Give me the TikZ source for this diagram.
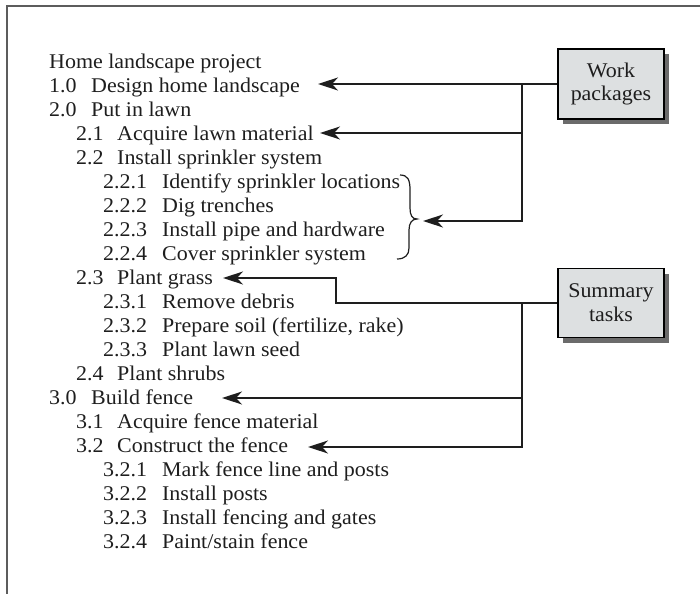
\documentclass[tikz,border=0pt]{standalone}
\usepackage{fontspec}
\setmainfont{Liberation Serif}[FakeStretch=1.05]
\usetikzlibrary{arrows.meta,shadows}
\definecolor{boxfill}{HTML}{DDE0E1}
\definecolor{shadowgray}{HTML}{6B6B6B}
\definecolor{framegray}{HTML}{5C5C5C}
\definecolor{ink}{HTML}{1E1E1E}
\newcommand{\numA}[1]{\makebox[42bp][l]{#1}}
\newcommand{\numB}[1]{\makebox[41bp][l]{#1}}
\newcommand{\numC}[1]{\makebox[59bp][l]{#1}}
\tikzset{
  item/.style={inner sep=0pt, anchor=base west, font=\fontsize{21}{24}\selectfont, text=ink},
  labelbox/.style={draw=black, line width=1.1bp, fill=boxfill, minimum width=106bp,
    minimum height=70bp, align=center, inner sep=0pt,
    font=\fontsize{21}{24}\selectfont, text=ink,
    drop shadow={shadow xshift=5bp, shadow yshift=-5bp, fill=shadowgray, opacity=1}},
  conn/.style={line width=1.4bp, draw=ink},
  pointer/.style={conn, -{Stealth[length=20bp, width=13bp, inset=6bp]}},
}
\begin{document}
\begin{tikzpicture}[x=1bp, y=-1bp]
\useasboundingbox (0,0) rectangle (700,594);
% outer frame, open at the right and bottom
\draw[framegray, line width=2bp] (7,594) -- (7,6) -- (700,6);

% outline of the project
\node[item] (h)    at (49, 68.5) {Home landscape project};
\node[item] (l10)  at (49, 92.5) {\numA{1.0}Design home landscape};
\node[item] (l20)  at (49,116.5) {\numA{2.0}Put in lawn};
\node[item] (l21)  at (76,140.5) {\numB{2.1}Acquire lawn material};
\node[item] (l22)  at (76,164.5) {\numB{2.2}Install sprinkler system};
\node[item] (l221) at (103,188.5) {\numC{2.2.1}Identify sprinkler locations};
\node[item] (l222) at (103,212.5) {\numC{2.2.2}Dig trenches};
\node[item] (l223) at (103,236.5) {\numC{2.2.3}Install pipe and hardware};
\node[item] (l224) at (103,260.5) {\numC{2.2.4}Cover sprinkler system};
\node[item] (l23)  at (76,284.5) {\numB{2.3}Plant grass};
\node[item] (l231) at (103,308.5) {\numC{2.3.1}Remove debris};
\node[item] (l232) at (103,332.5) {\numC{2.3.2}Prepare soil (fertilize, rake)};
\node[item] (l233) at (103,356.5) {\numC{2.3.3}Plant lawn seed};
\node[item] (l24)  at (76,380.5) {\numB{2.4}Plant shrubs};
\node[item] (l30)  at (49,404.5) {\numA{3.0}Build fence};
\node[item] (l31)  at (76,428.5) {\numB{3.1}Acquire fence material};
\node[item] (l32)  at (76,452.5) {\numB{3.2}Construct the fence};
\node[item] (l321) at (103,476.5) {\numC{3.2.1}Mark fence line and posts};
\node[item] (l322) at (103,500.5) {\numC{3.2.2}Install posts};
\node[item] (l323) at (103,524.5) {\numC{3.2.3}Install fencing and gates};
\node[item] (l324) at (103,548.5) {\numC{3.2.4}Paint/stain fence};

% legend boxes
\node[labelbox] (wp) at (611,84) {Work\\packages};
\node[labelbox, minimum height=69bp] (st) at (611,303) {Summary\\tasks};

% brace grouping the sprinkler tasks
\draw[conn, line width=1.2bp] (400,175) .. controls (408,175) and (410,180) .. (410,190)
  -- (410,208) .. controls (410,215) and (412,219) .. (417,219)
  .. controls (412,219) and (409,223) .. (409,230)
  -- (409,248) .. controls (409,255) and (405,259) .. (397,259);

% arrow tips and junctions
\coordinate (t10)  at (318,84);
\coordinate (t21)  at (320,133);
\coordinate (tbr)  at (423,221);
\coordinate (t23)  at (223,278);
\coordinate (t30)  at (222,398);
\coordinate (t32)  at (308,447);
\coordinate (jw)   at (522,84);
\coordinate (jw2)  at (522,133);
\coordinate (bend) at (336,303);
\coordinate (js)   at (522,303);
\coordinate (js2)  at (522,398);

% work package pointers
\draw[pointer] (wp.west) -- (t10);
\draw[pointer] (jw2) -- (t21);
\draw[pointer] (jw) |- (tbr);

% summary task pointers
\draw[pointer] (st.west) -- (bend) |- (t23);
\draw[pointer] (js) |- (t32);
\draw[pointer] (js2) -- (t30);
\end{tikzpicture}
\end{document}
